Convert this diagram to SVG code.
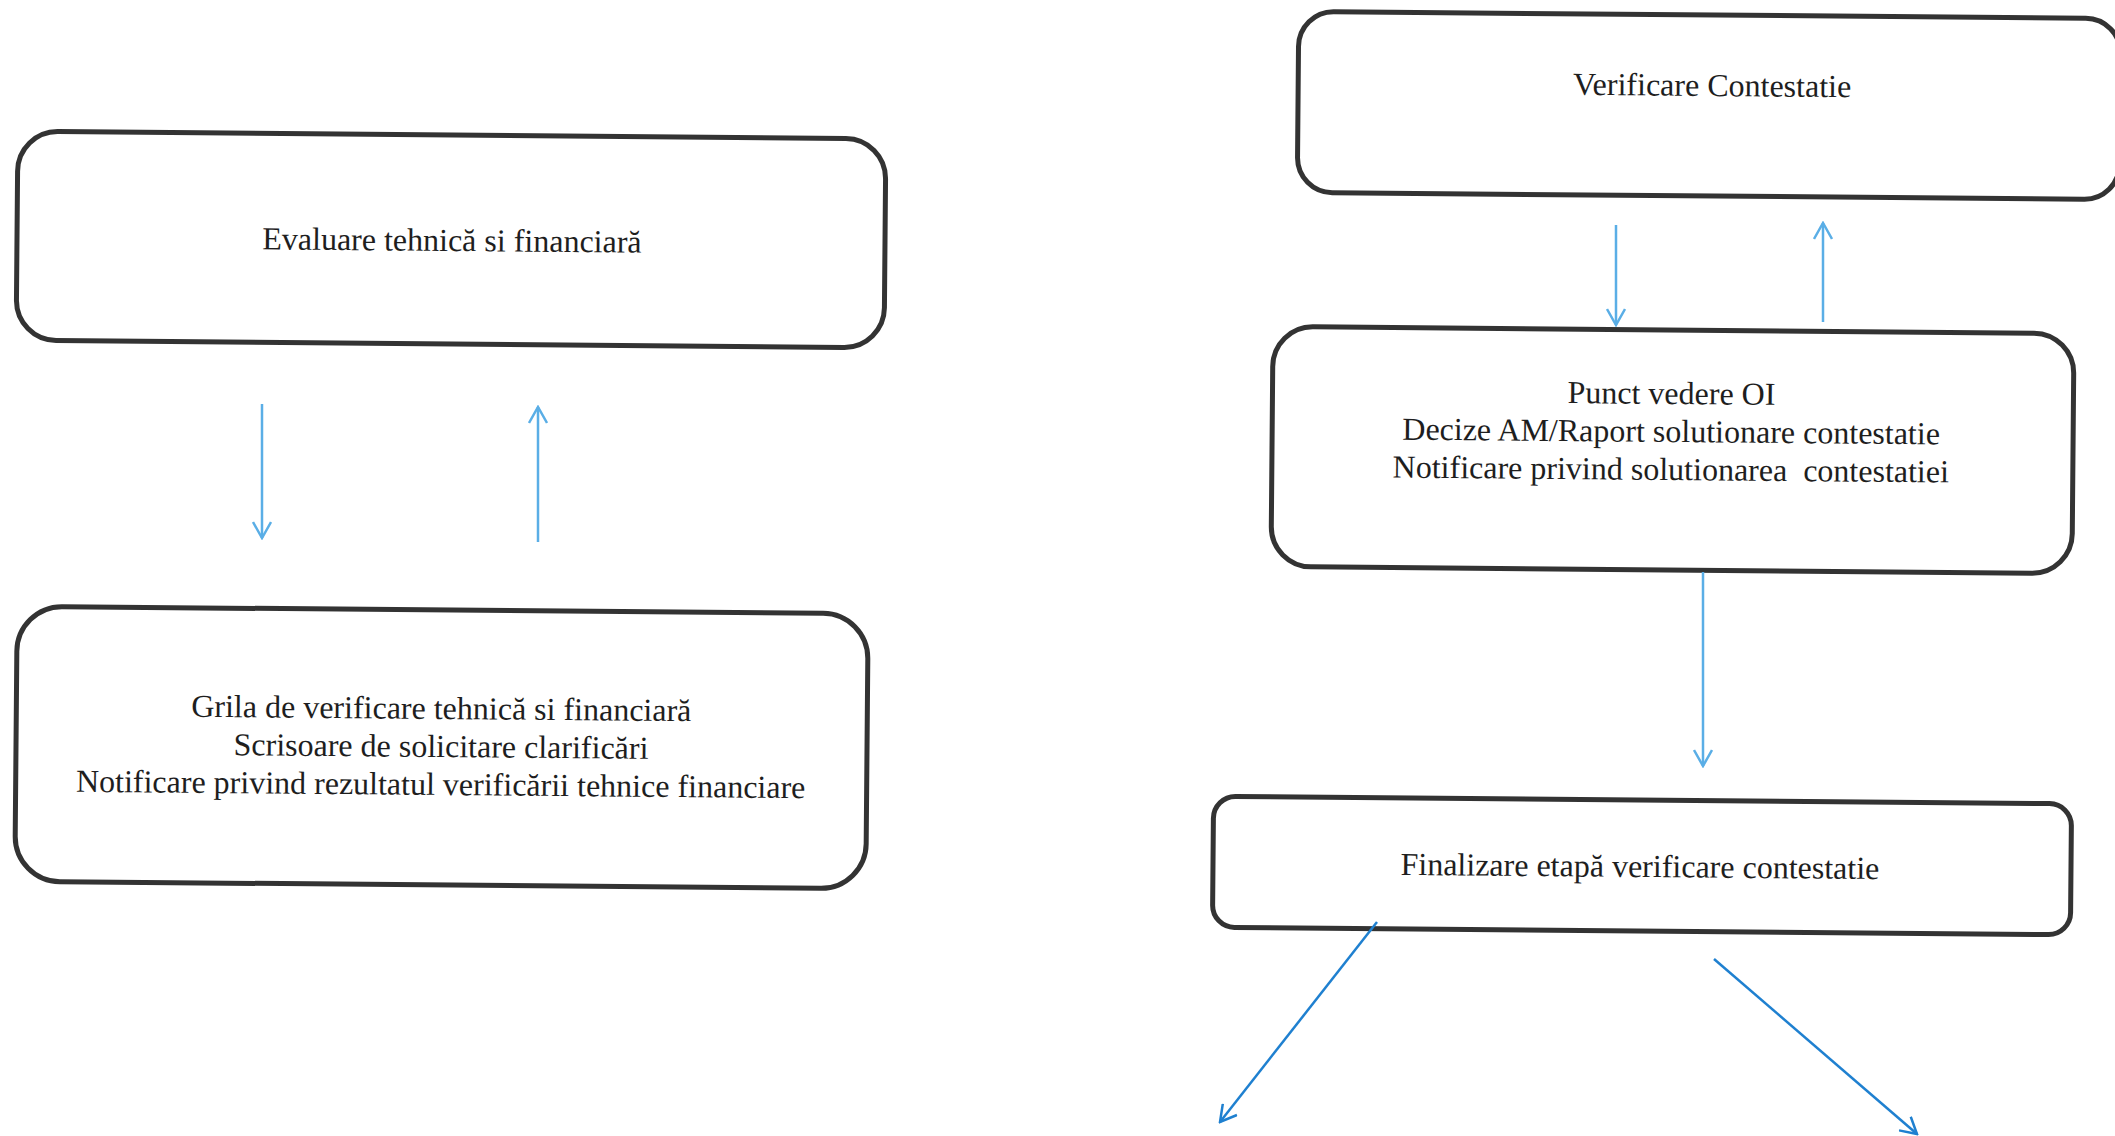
<svg xmlns="http://www.w3.org/2000/svg" width="2115" height="1136" viewBox="0 0 2115 1136">
<defs>
<marker id="ahL" viewBox="0 0 20 20" refX="18" refY="10" markerWidth="20" markerHeight="20" markerUnits="userSpaceOnUse" orient="auto">
<path d="M2,1 L18,10 L2,19" fill="none" stroke="#5aaee6" stroke-width="2.5"/>
</marker>
<marker id="ahD" viewBox="0 0 20 20" refX="18" refY="10" markerWidth="20" markerHeight="20" markerUnits="userSpaceOnUse" orient="auto">
<path d="M2,1 L18,10 L2,19" fill="none" stroke="#1f80d0" stroke-width="2.5"/>
</marker>
</defs>
<style>
.box{fill:#fff;stroke:#333;stroke-width:5}
.t{font-family:"Liberation Serif","Times New Roman",serif;font-size:32px;fill:#1e1e1e;text-anchor:middle;white-space:pre}
.c1{fill:none;stroke:#5aaee6;stroke-width:2.5;marker-end:url(#ahL)}
.c2{fill:none;stroke:#1f80d0;stroke-width:2.5;marker-end:url(#ahD)}
</style>
<rect width="2115" height="1136" fill="#fff"/>
<g id="n1" transform="rotate(0.5 451 240)">
<rect class="box" x="17" y="135" width="868" height="209" rx="40"/>
<text class="t" x="452" y="251">Evaluare tehnică si financiară</text>
</g>
<g id="n2" transform="rotate(0.5 441 748)">
<rect class="box" x="16" y="610" width="851" height="275" rx="45"/>
<text class="t" x="441" y="719">Grila de verificare tehnică si financiară</text>
<text class="t" x="441" y="757">Scrisoare de solicitare clarificări</text>
<text class="t" x="441" y="795">Notificare privind rezultatul verificării tehnice financiare</text>
</g>
<g id="n3" transform="rotate(0.5 1709 106)">
<rect class="box" x="1298" y="15" width="822" height="181" rx="35"/>
<text class="t" x="1712" y="96">Verificare Contestatie</text>
</g>
<g id="n4" transform="rotate(0.5 1672 450)">
<rect class="box" x="1272" y="330" width="801" height="240" rx="40"/>
<text class="t" x="1671" y="404">Punct vedere OI</text>
<text class="t" x="1671" y="442">Decize AM/Raport solutionare contestatie</text>
<text class="t" x="1671" y="480" xml:space="preserve">Notificare privind solutionarea  contestatiei</text>
</g>
<g id="n5" transform="rotate(0.5 1642 865)">
<rect class="box" x="1213" y="800" width="858" height="131" rx="22"/>
<text class="t" x="1640" y="877">Finalizare etapă verificare contestatie</text>
</g>
<g id="connectors">
<line class="c1" x1="262" y1="404" x2="262" y2="538"/>
<line class="c1" x1="538" y1="542" x2="538" y2="407"/>
<line class="c1" x1="1616" y1="225" x2="1616" y2="325"/>
<line class="c1" x1="1823" y1="322" x2="1823" y2="223"/>
<line class="c1" x1="1703" y1="572" x2="1703" y2="766"/>
<line class="c2" x1="1377" y1="922" x2="1220" y2="1122"/>
<line class="c2" x1="1714" y1="959" x2="1917" y2="1134"/>
</g>
</svg>
